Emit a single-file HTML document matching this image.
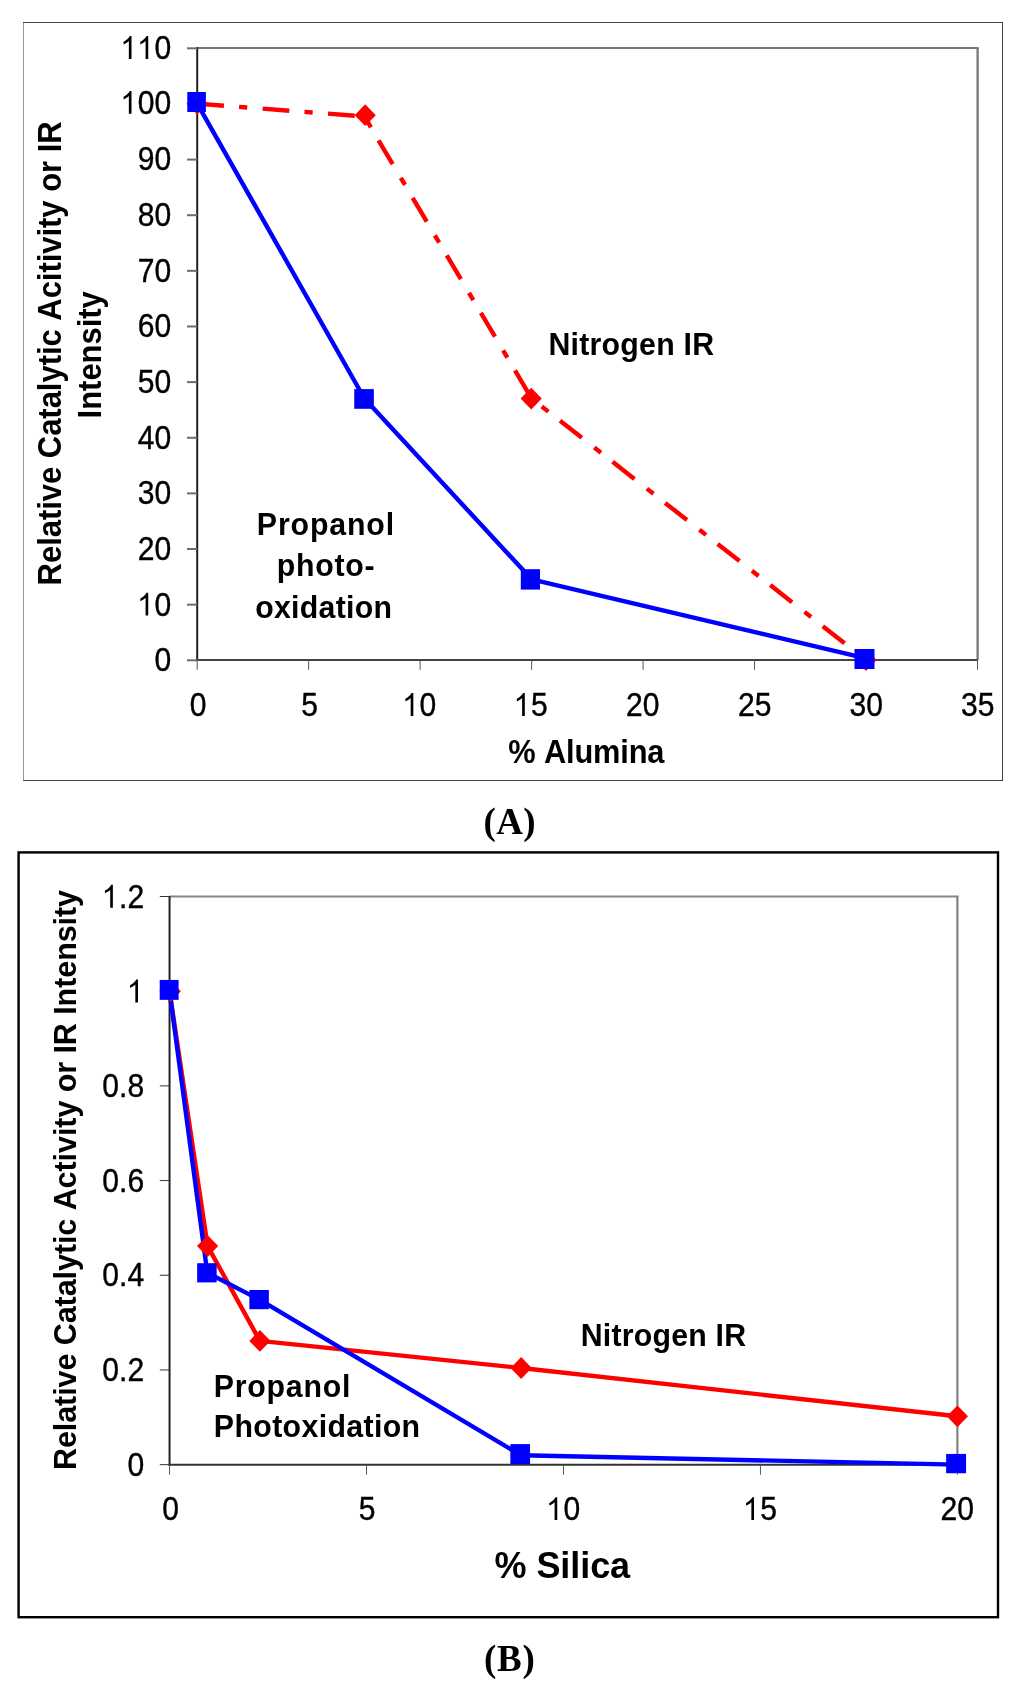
<!DOCTYPE html>
<html><head><meta charset="utf-8"><title>Figure</title>
<style>
html,body{margin:0;padding:0;background:#fff;}
svg{display:block;will-change:transform;}
text{font-kerning:none;fill:#000;white-space:pre;}
</style></head>
<body>
<svg width="1024" height="1691" viewBox="0 0 1024 1691">
<rect width="1024" height="1691" fill="#fff"/>
<line x1="23.50" y1="22.00" x2="23.50" y2="781.00" stroke="#999" stroke-width="1"/>
<line x1="23.00" y1="22.50" x2="1003.00" y2="22.50" stroke="#444" stroke-width="1"/>
<line x1="1002.50" y1="22.00" x2="1002.50" y2="781.00" stroke="#444" stroke-width="1"/>
<line x1="23.00" y1="780.50" x2="1003.00" y2="780.50" stroke="#444" stroke-width="1"/>
<line x1="197.20" y1="48.00" x2="978.70" y2="48.00" stroke="#787878" stroke-width="2"/>
<line x1="977.60" y1="48.00" x2="977.60" y2="660.00" stroke="#787878" stroke-width="2.3"/>
<line x1="197.20" y1="47.00" x2="197.20" y2="661.00" stroke="#222" stroke-width="2"/>
<line x1="196.20" y1="660.00" x2="977.50" y2="660.00" stroke="#444" stroke-width="2"/>
<line x1="187.00" y1="660.30" x2="197.20" y2="660.30" stroke="#6c6c6c" stroke-width="2"/>
<text x="154.46" y="0" font-family='"Liberation Sans", sans-serif' font-size="30.10" stroke="#000" stroke-width="0.35" transform="translate(0,671.20) scale(1,1.0836)">0</text>
<line x1="187.00" y1="604.66" x2="197.20" y2="604.66" stroke="#6c6c6c" stroke-width="2"/>
<text x="137.72" y="0" font-family='"Liberation Sans", sans-serif' font-size="30.10" stroke="#000" stroke-width="0.35" transform="translate(0,615.56) scale(1,1.0836)">  0</text>
<path d="M763 0L583 0L583 1147Q518 1085 412.5 1023Q307 961 223 930L223 1104Q374 1175 487 1276Q600 1377 647 1472L763 1472Z" transform="translate(137.02,615.56) scale(0.01470,-0.01551)" fill="#000"/>
<line x1="187.00" y1="549.03" x2="197.20" y2="549.03" stroke="#6c6c6c" stroke-width="2"/>
<text x="137.72" y="0" font-family='"Liberation Sans", sans-serif' font-size="30.10" stroke="#000" stroke-width="0.35" transform="translate(0,559.93) scale(1,1.0836)">20</text>
<line x1="187.00" y1="493.39" x2="197.20" y2="493.39" stroke="#6c6c6c" stroke-width="2"/>
<text x="137.72" y="0" font-family='"Liberation Sans", sans-serif' font-size="30.10" stroke="#000" stroke-width="0.35" transform="translate(0,504.29) scale(1,1.0836)">30</text>
<line x1="187.00" y1="437.75" x2="197.20" y2="437.75" stroke="#6c6c6c" stroke-width="2"/>
<text x="137.72" y="0" font-family='"Liberation Sans", sans-serif' font-size="30.10" stroke="#000" stroke-width="0.35" transform="translate(0,448.65) scale(1,1.0836)">40</text>
<line x1="187.00" y1="382.12" x2="197.20" y2="382.12" stroke="#6c6c6c" stroke-width="2"/>
<text x="137.72" y="0" font-family='"Liberation Sans", sans-serif' font-size="30.10" stroke="#000" stroke-width="0.35" transform="translate(0,393.02) scale(1,1.0836)">50</text>
<line x1="187.00" y1="326.48" x2="197.20" y2="326.48" stroke="#6c6c6c" stroke-width="2"/>
<text x="137.72" y="0" font-family='"Liberation Sans", sans-serif' font-size="30.10" stroke="#000" stroke-width="0.35" transform="translate(0,336.58) scale(1,1.0836)">60</text>
<line x1="187.00" y1="270.85" x2="197.20" y2="270.85" stroke="#6c6c6c" stroke-width="2"/>
<text x="137.72" y="0" font-family='"Liberation Sans", sans-serif' font-size="30.10" stroke="#000" stroke-width="0.35" transform="translate(0,281.75) scale(1,1.0836)">70</text>
<line x1="187.00" y1="215.21" x2="197.20" y2="215.21" stroke="#6c6c6c" stroke-width="2"/>
<text x="137.72" y="0" font-family='"Liberation Sans", sans-serif' font-size="30.10" stroke="#000" stroke-width="0.35" transform="translate(0,226.11) scale(1,1.0836)">80</text>
<line x1="187.00" y1="159.57" x2="197.20" y2="159.57" stroke="#6c6c6c" stroke-width="2"/>
<text x="137.72" y="0" font-family='"Liberation Sans", sans-serif' font-size="30.10" stroke="#000" stroke-width="0.35" transform="translate(0,170.47) scale(1,1.0836)">90</text>
<line x1="187.00" y1="103.94" x2="197.20" y2="103.94" stroke="#6c6c6c" stroke-width="2"/>
<text x="120.98" y="0" font-family='"Liberation Sans", sans-serif' font-size="30.10" stroke="#000" stroke-width="0.35" transform="translate(0,113.84) scale(1,1.0836)">  00</text>
<path d="M763 0L583 0L583 1147Q518 1085 412.5 1023Q307 961 223 930L223 1104Q374 1175 487 1276Q600 1377 647 1472L763 1472Z" transform="translate(120.28,113.84) scale(0.01470,-0.01551)" fill="#000"/>
<line x1="187.00" y1="48.30" x2="197.20" y2="48.30" stroke="#6c6c6c" stroke-width="2"/>
<text x="120.98" y="0" font-family='"Liberation Sans", sans-serif' font-size="30.10" stroke="#000" stroke-width="0.35" transform="translate(0,58.90) scale(1,1.0836)">    0</text>
<path d="M763 0L583 0L583 1147Q518 1085 412.5 1023Q307 961 223 930L223 1104Q374 1175 487 1276Q600 1377 647 1472L763 1472Z" transform="translate(120.28,58.90) scale(0.01470,-0.01551)" fill="#000"/>
<path d="M763 0L583 0L583 1147Q518 1085 412.5 1023Q307 961 223 930L223 1104Q374 1175 487 1276Q600 1377 647 1472L763 1472Z" transform="translate(137.02,58.90) scale(0.01470,-0.01551)" fill="#000"/>
<line x1="197.20" y1="660.00" x2="197.20" y2="669.80" stroke="#555" stroke-width="1.0"/>
<text x="189.73" y="0" font-family='"Liberation Sans", sans-serif' font-size="30.10" stroke="#000" stroke-width="0.35" transform="translate(0,715.90) scale(1,1.0836)">0</text>
<line x1="308.67" y1="660.00" x2="308.67" y2="669.80" stroke="#555" stroke-width="1.0"/>
<text x="301.30" y="0" font-family='"Liberation Sans", sans-serif' font-size="30.10" stroke="#000" stroke-width="0.35" transform="translate(0,715.90) scale(1,1.0836)">5</text>
<line x1="420.14" y1="660.00" x2="420.14" y2="669.80" stroke="#555" stroke-width="1.0"/>
<text x="402.80" y="0" font-family='"Liberation Sans", sans-serif' font-size="30.10" stroke="#000" stroke-width="0.35" transform="translate(0,715.90) scale(1,1.0836)">  0</text>
<path d="M763 0L583 0L583 1147Q518 1085 412.5 1023Q307 961 223 930L223 1104Q374 1175 487 1276Q600 1377 647 1472L763 1472Z" transform="translate(402.10,715.90) scale(0.01470,-0.01551)" fill="#000"/>
<line x1="531.61" y1="660.00" x2="531.61" y2="669.80" stroke="#555" stroke-width="1.0"/>
<text x="514.27" y="0" font-family='"Liberation Sans", sans-serif' font-size="30.10" stroke="#000" stroke-width="0.35" transform="translate(0,715.90) scale(1,1.0836)">  5</text>
<path d="M763 0L583 0L583 1147Q518 1085 412.5 1023Q307 961 223 930L223 1104Q374 1175 487 1276Q600 1377 647 1472L763 1472Z" transform="translate(513.57,715.90) scale(0.01470,-0.01551)" fill="#000"/>
<line x1="643.09" y1="660.00" x2="643.09" y2="669.80" stroke="#555" stroke-width="1.0"/>
<text x="626.04" y="0" font-family='"Liberation Sans", sans-serif' font-size="30.10" stroke="#000" stroke-width="0.35" transform="translate(0,715.90) scale(1,1.0836)">20</text>
<line x1="754.56" y1="660.00" x2="754.56" y2="669.80" stroke="#555" stroke-width="1.0"/>
<text x="738.02" y="0" font-family='"Liberation Sans", sans-serif' font-size="30.10" stroke="#000" stroke-width="0.35" transform="translate(0,715.90) scale(1,1.0836)">25</text>
<line x1="866.03" y1="660.00" x2="866.03" y2="669.80" stroke="#555" stroke-width="1.0"/>
<text x="849.59" y="0" font-family='"Liberation Sans", sans-serif' font-size="30.10" stroke="#000" stroke-width="0.35" transform="translate(0,715.90) scale(1,1.0836)">30</text>
<line x1="977.50" y1="660.00" x2="977.50" y2="669.80" stroke="#555" stroke-width="1.0"/>
<text x="960.96" y="0" font-family='"Liberation Sans", sans-serif' font-size="30.10" stroke="#000" stroke-width="0.35" transform="translate(0,715.90) scale(1,1.0836)">35</text>
<polyline points="197.20,103.64 364.41,116.43" fill="none" stroke="#ff0000" stroke-width="4.4" stroke-linejoin="round" stroke-dasharray="26.8 15.2 8.2 15.4" stroke-dashoffset="0"/>
<polyline points="364.41,116.43 531.61,398.51" fill="none" stroke="#ff0000" stroke-width="4.4" stroke-linejoin="round" stroke-dasharray="27.7 15.9 8.4 14.9" stroke-dashoffset="39.2"/>
<polyline points="531.61,398.51 866.03,660.00" fill="none" stroke="#ff0000" stroke-width="4.4" stroke-linejoin="round" stroke-dasharray="27.7 15.8 8.4 14.8" stroke-dashoffset="30.6"/>
<polyline points="197.20,103.64 364.41,398.51 531.61,579.33 866.03,658.33" fill="none" stroke="#0000ff" stroke-width="4.4" stroke-linejoin="round"/>
<path d="M197.20 92.74L207.80 103.64L197.20 114.54L186.60 103.64Z" fill="#ff0000"/>
<path d="M365.21 104.23L375.81 115.13L365.21 126.03L354.61 115.13Z" fill="#ff0000"/>
<path d="M531.21 387.71L541.81 398.61L531.21 409.51L520.61 398.61Z" fill="#ff0000"/>
<path d="M866.03 649.10L876.63 660.00L866.03 670.90L855.43 660.00Z" fill="#ff0000"/>
<rect x="187.30" y="92.00" width="18.6" height="20" fill="#0000ff"/>
<rect x="354.25" y="389.10" width="19.6" height="19.7" fill="#0000ff"/>
<rect x="520.80" y="569.20" width="19.2" height="20.4" fill="#0000ff"/>
<rect x="854.50" y="649.00" width="20" height="20" fill="#0000ff"/>
<text x="548.45" y="0" font-family='"Liberation Sans", sans-serif' font-weight="bold" font-size="30.30" letter-spacing="0.243" transform="translate(0,354.70) scale(1,1.05)">Nitrogen IR</text>
<text x="256.85" y="0" font-family='"Liberation Sans", sans-serif' font-weight="bold" font-size="30.30" letter-spacing="0.867" transform="translate(0,534.50) scale(1,1.05)">Propanol</text>
<text x="276.83" y="0" font-family='"Liberation Sans", sans-serif' font-weight="bold" font-size="30.30" letter-spacing="0.736" transform="translate(0,575.90) scale(1,1.05)">photo-</text>
<text x="255.19" y="0" font-family='"Liberation Sans", sans-serif' font-weight="bold" font-size="30.30" letter-spacing="0.273" transform="translate(0,617.90) scale(1,1.05)">oxidation</text>
<text x="508.33" y="0" font-family='"Liberation Sans", sans-serif' font-weight="bold" font-size="30.80" letter-spacing="-0.159" transform="translate(0,762.80) scale(1,1.05)">% Alumina</text>
<text x="-2.09" y="0" font-family='"Liberation Sans", sans-serif' font-weight="bold" font-size="31.00" letter-spacing="-0.027" transform="translate(61.00,583.30) rotate(-90) scale(1,1.05)">Relative Catalytic Acitivity or IR</text>
<text x="-2.09" y="0" font-family='"Liberation Sans", sans-serif' font-weight="bold" font-size="31.00" letter-spacing="-0.023" transform="translate(100.90,416.30) rotate(-90) scale(1,1.05)">Intensity</text>
<text x="483.53" y="834.40" font-family='"Liberation Serif", serif' font-weight="bold" font-size="37.00" letter-spacing="0.346">(A)</text>
<rect x="18.6" y="852.4" width="979.4" height="764.8" fill="none" stroke="#000" stroke-width="2.4"/>
<line x1="169.55" y1="896.50" x2="958.50" y2="896.50" stroke="#888" stroke-width="2"/>
<line x1="957.40" y1="896.50" x2="957.40" y2="1464.65" stroke="#808080" stroke-width="2.2"/>
<line x1="169.55" y1="896.00" x2="169.55" y2="1465.65" stroke="#222" stroke-width="2"/>
<line x1="168.55" y1="1464.65" x2="957.40" y2="1464.65" stroke="#333" stroke-width="2"/>
<line x1="159.80" y1="1464.65" x2="169.55" y2="1464.65" stroke="#333" stroke-width="1"/>
<text x="127.46" y="0" font-family='"Liberation Sans", sans-serif' font-size="30.10" stroke="#000" stroke-width="0.35" transform="translate(0,1475.85) scale(1,1.0836)">0</text>
<line x1="159.80" y1="1369.96" x2="169.55" y2="1369.96" stroke="#333" stroke-width="1"/>
<text x="102.35" y="0" font-family='"Liberation Sans", sans-serif' font-size="30.10" stroke="#000" stroke-width="0.35" transform="translate(0,1381.16) scale(1,1.0836)">0.2</text>
<line x1="159.80" y1="1275.27" x2="169.55" y2="1275.27" stroke="#333" stroke-width="1"/>
<text x="102.35" y="0" font-family='"Liberation Sans", sans-serif' font-size="30.10" stroke="#000" stroke-width="0.35" transform="translate(0,1286.47) scale(1,1.0836)">0.4</text>
<line x1="159.80" y1="1180.58" x2="169.55" y2="1180.58" stroke="#333" stroke-width="1"/>
<text x="102.35" y="0" font-family='"Liberation Sans", sans-serif' font-size="30.10" stroke="#000" stroke-width="0.35" transform="translate(0,1191.78) scale(1,1.0836)">0.6</text>
<line x1="159.80" y1="1085.88" x2="169.55" y2="1085.88" stroke="#333" stroke-width="1"/>
<text x="102.35" y="0" font-family='"Liberation Sans", sans-serif' font-size="30.10" stroke="#000" stroke-width="0.35" transform="translate(0,1097.08) scale(1,1.0836)">0.8</text>
<line x1="159.80" y1="991.19" x2="169.55" y2="991.19" stroke="#333" stroke-width="1"/>
<path d="M763 0L583 0L583 1147Q518 1085 412.5 1023Q307 961 223 930L223 1104Q374 1175 487 1276Q600 1377 647 1472L763 1472Z" transform="translate(126.76,1002.39) scale(0.01470,-0.01551)" fill="#000"/>
<line x1="159.80" y1="896.50" x2="169.55" y2="896.50" stroke="#333" stroke-width="1"/>
<text x="102.35" y="0" font-family='"Liberation Sans", sans-serif' font-size="30.10" stroke="#000" stroke-width="0.35" transform="translate(0,907.70) scale(1,1.0836)">  .2</text>
<path d="M763 0L583 0L583 1147Q518 1085 412.5 1023Q307 961 223 930L223 1104Q374 1175 487 1276Q600 1377 647 1472L763 1472Z" transform="translate(101.65,907.70) scale(0.01470,-0.01551)" fill="#000"/>
<line x1="169.55" y1="1464.65" x2="169.55" y2="1474.70" stroke="#555" stroke-width="1.0"/>
<text x="162.18" y="0" font-family='"Liberation Sans", sans-serif' font-size="30.10" stroke="#000" stroke-width="0.35" transform="translate(0,1520.00) scale(1,1.0836)">0</text>
<line x1="366.51" y1="1464.65" x2="366.51" y2="1474.70" stroke="#555" stroke-width="1.0"/>
<text x="358.74" y="0" font-family='"Liberation Sans", sans-serif' font-size="30.10" stroke="#000" stroke-width="0.35" transform="translate(0,1520.00) scale(1,1.0836)">5</text>
<line x1="563.47" y1="1464.65" x2="563.47" y2="1474.70" stroke="#555" stroke-width="1.0"/>
<text x="546.73" y="0" font-family='"Liberation Sans", sans-serif' font-size="30.10" stroke="#000" stroke-width="0.35" transform="translate(0,1520.00) scale(1,1.0836)">  0</text>
<path d="M763 0L583 0L583 1147Q518 1085 412.5 1023Q307 961 223 930L223 1104Q374 1175 487 1276Q600 1377 647 1472L763 1472Z" transform="translate(546.03,1520.00) scale(0.01470,-0.01551)" fill="#000"/>
<line x1="760.44" y1="1464.65" x2="760.44" y2="1474.70" stroke="#555" stroke-width="1.0"/>
<text x="743.50" y="0" font-family='"Liberation Sans", sans-serif' font-size="30.10" stroke="#000" stroke-width="0.35" transform="translate(0,1520.00) scale(1,1.0836)">  5</text>
<path d="M763 0L583 0L583 1147Q518 1085 412.5 1023Q307 961 223 930L223 1104Q374 1175 487 1276Q600 1377 647 1472L763 1472Z" transform="translate(742.80,1520.00) scale(0.01470,-0.01551)" fill="#000"/>
<line x1="957.40" y1="1464.65" x2="957.40" y2="1474.70" stroke="#555" stroke-width="1.0"/>
<text x="940.46" y="0" font-family='"Liberation Sans", sans-serif' font-size="30.10" stroke="#000" stroke-width="0.35" transform="translate(0,1520.00) scale(1,1.0836)">20</text>
<polyline points="169.55,991.20 207.60,1246.10 259.90,1340.90 521.20,1368.00 957.40,1416.30" fill="none" stroke="#ff0000" stroke-width="4.4" stroke-linejoin="round"/>
<polyline points="169.55,991.20 207.30,1272.80 259.50,1299.70 520.80,1455.20 957.40,1464.60" fill="none" stroke="#0000ff" stroke-width="4.4" stroke-linejoin="round"/>
<path d="M170.35 980.30L180.95 991.20L170.35 1002.10L159.75 991.20Z" fill="#ff0000"/>
<path d="M207.60 1235.20L218.20 1246.10L207.60 1257.00L197.00 1246.10Z" fill="#ff0000"/>
<path d="M259.90 1330.00L270.50 1340.90L259.90 1351.80L249.30 1340.90Z" fill="#ff0000"/>
<path d="M521.20 1357.10L531.80 1368.00L521.20 1378.90L510.60 1368.00Z" fill="#ff0000"/>
<path d="M957.40 1405.40L968.00 1416.30L957.40 1427.20L946.80 1416.30Z" fill="#ff0000"/>
<rect x="159.70" y="979.95" width="18.9" height="19.9" fill="#0000ff"/>
<rect x="197.15" y="1263.20" width="19.5" height="19.2" fill="#0000ff"/>
<rect x="249.35" y="1290.00" width="19.5" height="19.2" fill="#0000ff"/>
<rect x="510.35" y="1444.10" width="19.7" height="20.0" fill="#0000ff"/>
<rect x="946.15" y="1453.95" width="19.9" height="19.3" fill="#0000ff"/>
<text x="580.65" y="0" font-family='"Liberation Sans", sans-serif' font-weight="bold" font-size="30.30" letter-spacing="0.233" transform="translate(0,1346.20) scale(1,1.05)">Nitrogen IR</text>
<text x="213.85" y="0" font-family='"Liberation Sans", sans-serif' font-weight="bold" font-size="30.30" letter-spacing="0.753" transform="translate(0,1396.80) scale(1,1.05)">Propanol</text>
<text x="213.85" y="0" font-family='"Liberation Sans", sans-serif' font-weight="bold" font-size="30.30" letter-spacing="0.367" transform="translate(0,1437.30) scale(1,1.05)">Photoxidation</text>
<text x="494.50" y="0" font-family='"Liberation Sans", sans-serif' font-weight="bold" font-size="36.00" letter-spacing="-0.058" transform="translate(0,1577.80) scale(1,1.05)">% Silica</text>
<text x="-2.06" y="0" font-family='"Liberation Sans", sans-serif' font-weight="bold" font-size="30.50" letter-spacing="-0.068" transform="translate(76.00,1468.00) rotate(-90) scale(1,1.05)">Relative Catalytic Activity or IR Intensity</text>
<text x="484.03" y="1671.00" font-family='"Liberation Serif", serif' font-weight="bold" font-size="37.00" letter-spacing="0.717">(B)</text>
</svg>
</body></html>
